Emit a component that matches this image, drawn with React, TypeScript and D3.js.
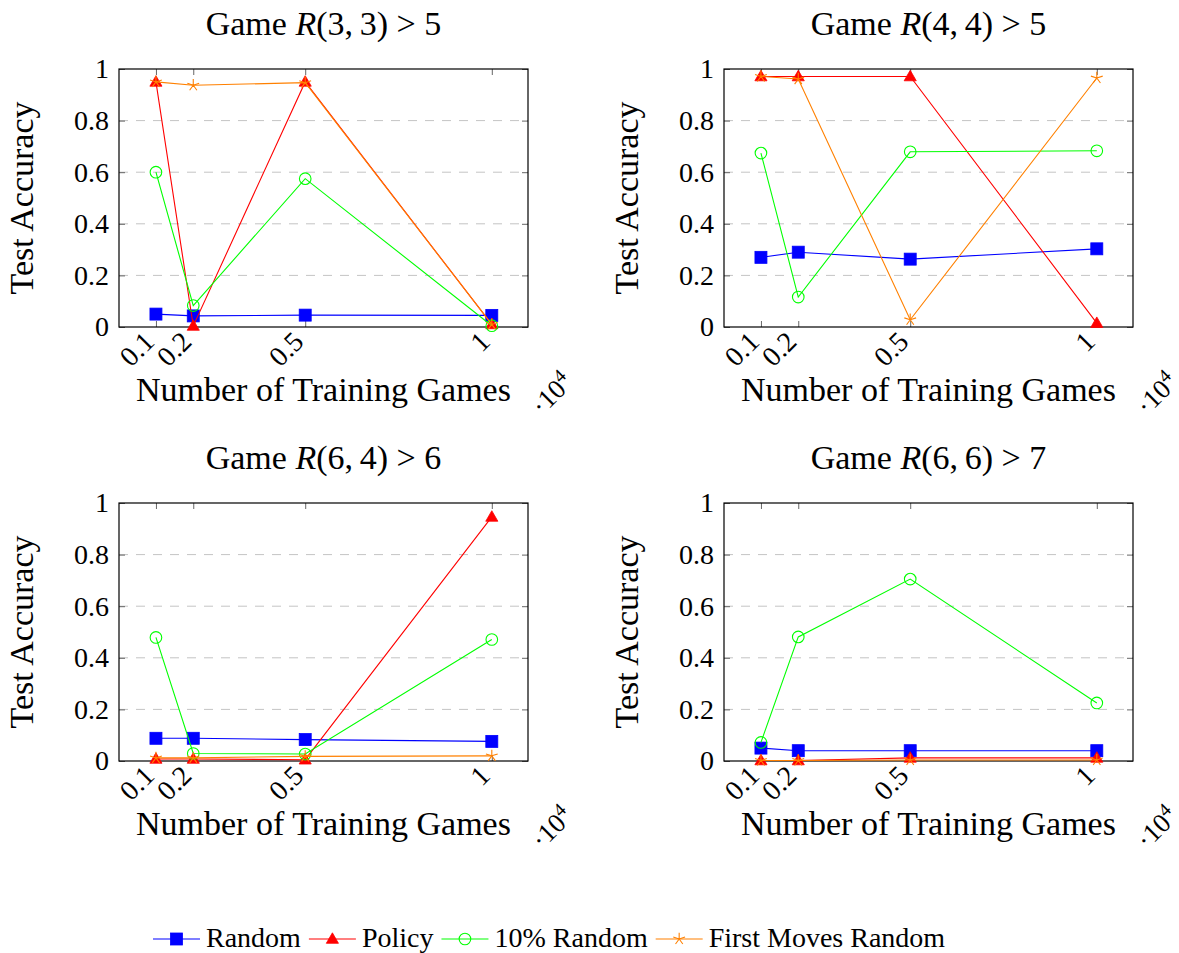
import React, { useEffect, useRef } from "react";
import * as d3 from "d3";

// number of training games (x 10^4)
const trainingGames = [0.1, 0.2, 0.5, 1];
const xTickLabels = ["0.1", "0.2", "0.5", "1"];
const yTicks = [0, 0.2, 0.4, 0.6, 0.8, 1];

const seriesNames = ["Random", "Policy", "10% Random", "First Moves Random"];
const seriesColors = ["#0000ff", "#ff0000", "#00ff00", "#ff8000"];
const markerKinds = ["square", "triangle", "circle", "star"];

const gameArgs = ["3,", "4,", "6,", "6,"];
const gameArgs2 = ["3", "4", "4", "6"];
const gameBounds = ["5", "5", "6", "7"];

// R(3,3) > 5
const r33Random = [0.05, 0.043, 0.046, 0.045];
const r33Policy = [0.95, 0.004, 0.95, 0.01];
const r33TenPct = [0.6, 0.083, 0.575, 0.005];
const r33FirstMoves = [0.95, 0.937, 0.947, 0.01];

// R(4,4) > 5
const r44Random = [0.27, 0.29, 0.263, 0.303];
const r44Policy = [0.971, 0.971, 0.971, 0.015];
const r44TenPct = [0.674, 0.116, 0.679, 0.683];
const r44FirstMoves = [0.971, 0.961, 0.028, 0.965];

// R(6,4) > 6
const r64Random = [0.088, 0.088, 0.083, 0.076];
const r64Policy = [0.008, 0.008, 0.005, 0.946];
const r64TenPct = [0.479, 0.029, 0.027, 0.471];
const r64FirstMoves = [0.012, 0.012, 0.018, 0.02];

// R(6,6) > 7
const r66Random = [0.05, 0.04, 0.04, 0.04];
const r66Policy = [0.002, 0.002, 0.012, 0.012];
const r66TenPct = [0.072, 0.481, 0.705, 0.225];
const r66FirstMoves = [0.002, 0.002, 0.004, 0.004];

const games = [
  [r33Random, r33Policy, r33TenPct, r33FirstMoves],
  [r44Random, r44Policy, r44TenPct, r44FirstMoves],
  [r64Random, r64Policy, r64TenPct, r64FirstMoves],
  [r66Random, r66Policy, r66TenPct, r66FirstMoves],
];

const FONT = "Liberation Serif";

function drawMarker(g: any, kind: string, color: string, cx: number, cy: number) {
  if (kind === "square") {
    g.append("rect")
      .attr("x", cx - 6).attr("y", cy - 6)
      .attr("width", 12).attr("height", 12)
      .attr("fill", color).attr("stroke", color).attr("stroke-width", 0.8);
  } else if (kind === "triangle") {
    const r = 7;
    const pts = [0, 1, 2].map((k) => {
      const a = -Math.PI / 2 + (k * 2 * Math.PI) / 3;
      return [cx + r * Math.cos(a), cy + r * Math.sin(a) + 0.8];
    });
    g.append("path")
      .attr("d", d3.line()(pts as [number, number][]) + "Z")
      .attr("fill", color).attr("stroke", color).attr("stroke-width", 0.8);
  } else if (kind === "circle") {
    g.append("circle")
      .attr("cx", cx).attr("cy", cy).attr("r", 5.8)
      .attr("fill", "none").attr("stroke", color).attr("stroke-width", 1.1);
  } else {
    const r = 6.2;
    let d = "";
    for (let k = 0; k < 5; k++) {
      const a = -Math.PI / 2 + (k * 2 * Math.PI) / 5;
      d += `M${cx},${cy}L${cx + r * Math.cos(a)},${cy + r * Math.sin(a)}`;
    }
    g.append("path").attr("d", d).attr("fill", "none")
      .attr("stroke", color).attr("stroke-width", 1.1);
  }
}

export default function App() {
  const ref = useRef<SVGSVGElement>(null);

  useEffect(() => {
    const svg = d3.select(ref.current);
    svg.selectAll("*").remove();

    const W = 409;
    const H = 258;

    games.forEach((series, gi) => {
      const left = gi % 2 === 0 ? 119 : 724;
      const top = gi < 2 ? 69 : 503;
      const bottom = top + H;

      const x = d3.scaleLinear().domain([0.001, 1.097]).range([left, left + W]);
      const y = d3.scaleLinear().domain([0, 1]).range([bottom, top]);

      const g = svg.append("g");

      // dashed grid
      g.selectAll(".grid")
        .data(yTicks.filter((t) => t > 0 && t < 1))
        .enter()
        .append("line")
        .attr("x1", left).attr("x2", left + W)
        .attr("y1", (d) => y(d)).attr("y2", (d) => y(d))
        .attr("stroke", "#c4c4c4").attr("stroke-width", 1)
        .attr("stroke-dasharray", "9,8");

      // axes with inward ticks
      const yAxis = g.append("g").attr("transform", `translate(${left},0)`)
        .call(d3.axisLeft(y).tickValues(yTicks).tickSize(-6).tickPadding(10)
          .tickFormat((d) => (d === 0 || d === 1 ? String(d) : d3.format(".1f")(d as number))));
      yAxis.selectAll("text").attr("font-size", 28).attr("fill", "#000");

      g.append("g").attr("transform", `translate(${left + W},0)`)
        .call(d3.axisRight(y).tickValues(yTicks).tickSize(-6).tickFormat(() => ""));

      const xAxis = g.append("g").attr("transform", `translate(0,${bottom})`)
        .call(d3.axisBottom(x).tickValues(trainingGames).tickSize(-6)
          .tickFormat((d, i) => xTickLabels[i]));
      xAxis.selectAll("text")
        .attr("font-size", 28).attr("fill", "#000")
        .attr("x", 0).attr("y", 0).attr("dy", "0.32em")
        .attr("text-anchor", "end")
        .attr("transform", "translate(-7,10) rotate(-45)");

      g.append("g").attr("transform", `translate(0,${top})`)
        .call(d3.axisTop(x).tickValues(trainingGames).tickSize(-6).tickFormat(() => ""));

      g.selectAll(".domain").remove();
      g.selectAll(".tick line").attr("stroke", "#666").attr("stroke-width", 1);
      g.selectAll("g").attr("font-family", FONT);

      // frame
      g.append("rect")
        .attr("x", left).attr("y", top).attr("width", W).attr("height", H)
        .attr("fill", "none").attr("stroke", "#000").attr("stroke-width", 1.2);

      // series
      const line = d3.line<number>()
        .x((d, i) => x(trainingGames[i]))
        .y((d) => y(d));
      series.forEach((vals, si) => {
        const sg = g.append("g");
        sg.append("path")
          .attr("d", line(vals))
          .attr("fill", "none")
          .attr("stroke", seriesColors[si])
          .attr("stroke-width", 1.1);
        vals.forEach((v, i) => drawMarker(sg, markerKinds[si], seriesColors[si], x(trainingGames[i]), y(v)));
      });

      const cx = left + W / 2;

      // title
      const title = g.append("text")
        .attr("x", cx).attr("y", top - 34).attr("font-family", FONT)
        .attr("text-anchor", "middle").attr("font-size", 34).attr("fill", "#000");
      title.append("tspan").text("Game ");
      title.append("tspan").attr("font-style", "italic").text("R");
      title.append("tspan").text(`(${gameArgs[gi]}\u2009${gameArgs2[gi]}) > ${gameBounds[gi]}`);

      // x label
      g.append("text")
        .attr("x", cx).attr("y", bottom + 74).attr("font-family", FONT)
        .attr("text-anchor", "middle").attr("font-size", 34).attr("fill", "#000")
        .text("Number of Training Games");

      // y label
      g.append("text")
        .attr("transform", `translate(${left - 86},${top + H / 2}) rotate(-90)`)
        .attr("font-family", FONT)
        .attr("text-anchor", "middle").attr("font-size", 34).attr("fill", "#000")
        .text("Test Accuracy");

      // scale multiplier
      const mult = g.append("text")
        .attr("transform", `translate(${left + 433},${bottom + 67}) rotate(-45)`)
        .attr("font-family", FONT)
        .attr("text-anchor", "middle").attr("dy", "0.32em")
        .attr("font-size", 27).attr("fill", "#000");
      mult.append("tspan").text("\u00b710");
      mult.append("tspan").attr("dy", -10).attr("font-size", 19).text("4");
    });

    // legend
    const lg = svg.append("g");
    let lx = 153;
    const ly = 939;
    seriesNames.forEach((name, si) => {
      lg.append("line")
        .attr("x1", lx).attr("x2", lx + 47)
        .attr("y1", ly).attr("y2", ly)
        .attr("stroke", seriesColors[si]).attr("stroke-width", 1.1);
      drawMarker(lg, markerKinds[si], seriesColors[si], lx + 23.5, ly);
      const t = lg.append("text")
        .attr("x", lx + 53).attr("y", ly + 8)
        .attr("font-family", FONT)
        .attr("font-size", 28).attr("fill", "#000")
        .text(name);
      const w = (t.node() as SVGTextElement).getComputedTextLength();
      lx = lx + 53 + w + 8;
    });
  }, []);

  return (
    <svg
      ref={ref}
      width={1179}
      height={953}
      style={{ position: "absolute", left: 0, top: 0, background: "#fff" }}
    />
  );
}
